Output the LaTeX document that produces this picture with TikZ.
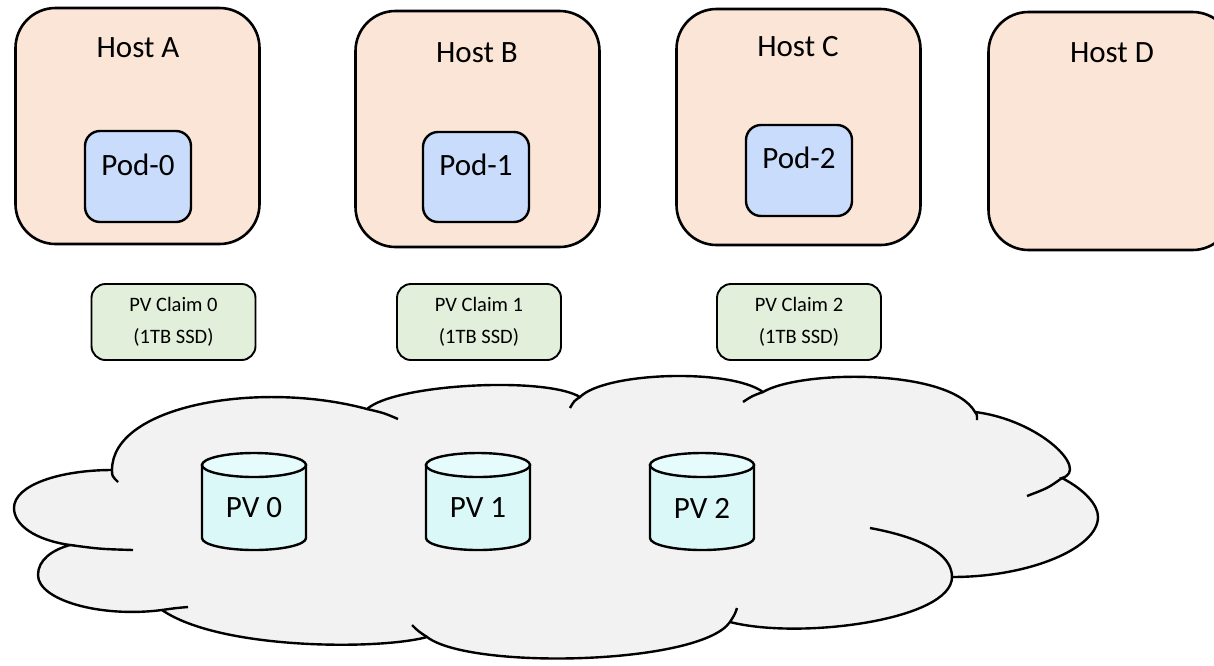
\documentclass[tikz,border=0pt]{standalone}
\usepackage{fontspec}
\setmainfont{Carlito}
\definecolor{hostfill}{HTML}{FBE5D6}
\definecolor{podfill}{HTML}{CADCFC}
\definecolor{claimfill}{HTML}{E2EFDA}
\definecolor{cloudfill}{HTML}{F2F2F2}
\definecolor{cylfill}{HTML}{DBF8F8}
\definecolor{cyltop}{HTML}{E6FCFC}
\begin{document}
\begin{tikzpicture}[x=1pt,y=-1pt,
  hostbox/.style={draw=black,line width=2.6pt,fill=hostfill,rounded corners=40pt,minimum width=244pt,minimum height=236pt,inner sep=0pt},
  podbox/.style={draw=black,line width=2.4pt,fill=podfill,rounded corners=15pt,minimum width=106pt,minimum height=90pt,inner sep=0pt},
  claimbox/.style={draw=black,line width=1.9pt,fill=claimfill,rounded corners=14pt,minimum width=164pt,minimum height=76pt,inner sep=0pt,align=center,font=\fontsize{20.5}{32}\selectfont},
  bigtxt/.style={inner sep=0pt,font=\fontsize{31}{37}\selectfont},
  cloudline/.style={draw=black,line width=2.4pt},
  cyl/.style={draw=black,line width=2.4pt,fill=cylfill},
  cyltopst/.style={draw=black,line width=2.4pt,fill=cyltop}
]
\useasboundingbox (0,0) rectangle (1214,665);
\clip (0,0) rectangle (1214,665);

% hosts
\node[hostbox] (hostA) at (137.5,126) {};
\node[hostbox] (hostB) at (477.5,129) {};
\node[hostbox] (hostC) at (798.5,127) {};
\node[hostbox,minimum height=238pt] (hostD) at (1110.5,131) {};
\node[bigtxt] (labA) at (138,48) {Host A};
\node[bigtxt] (labB) at (477,53) {Host B};
\node[bigtxt] (labC) at (798,47) {Host C};
\node[bigtxt] (labD) at (1112,53) {Host D};

% pods
\node[podbox,minimum height=91pt] (pod0) at (138,176.5) {};
\node[podbox] (pod1) at (476,177) {};
\node[podbox,minimum height=91pt] (pod2) at (799,170.5) {};
\node[bigtxt] (pod0t) at (138,165) {Pod-0};
\node[bigtxt] (pod1t) at (476,165) {Pod-1};
\node[bigtxt] (pod2t) at (799,158) {Pod-2};

% claims
\node[claimbox] (claim0) at (173.5,322) {PV Claim 0\\(1TB SSD)};
\node[claimbox] (claim1) at (479,322) {PV Claim 1\\(1TB SSD)};
\node[claimbox] (claim2) at (799,322) {PV Claim 2\\(1TB SSD)};

% cloud
\coordinate (J1) at (112,470);
\coordinate (J2) at (367,409);
\coordinate (J3) at (580,397);
\coordinate (J4) at (763,392);
\coordinate (J5) at (975,412);
\coordinate (J6) at (1062,478);
\coordinate (R6) at (1098,517);
\coordinate (J7) at (952,577);
\coordinate (J8) at (730,622);
\coordinate (J9) at (427,637);
\coordinate (J10) at (162,610);
\coordinate (L10) at (38,575);
\coordinate (J11) at (70,545);
\coordinate (L11) at (14,508);
\path[cloudline,fill=cloudfill]
  (J1) .. controls (112,405) and (260,380) .. (J2)
  .. controls (395,384) and (545,376) .. (J3)
  .. controls (605,372) and (730,368) .. (J4)
  .. controls (800,370) and (950,368) .. (J5)
  .. controls (1040,420) and (1090,470) .. (J6)
  .. controls (1085,490) and (1098,505) .. (R6)
  .. controls (1098,548) and (1030,577) .. (J7)
  .. controls (952,620) and (800,640) .. (J8)
  .. controls (700,665) and (470,670) .. (J9)
  .. controls (380,650) and (220,650) .. (J10)
  .. controls (100,618) and (38,600) .. (L10)
  .. controls (38,560) and (52,550) .. (J11)
  .. controls (35,540) and (14,525) .. (L11)
  .. controls (14,485) and (60,470) .. (J1) -- cycle;
% cloud inner tails
\coordinate (T1) at (118,482);
\coordinate (T2) at (398,419);
\coordinate (T3) at (570,408);
\coordinate (T4) at (743,402);
\coordinate (T5) at (977,420);
\coordinate (T6) at (1027,496);
\coordinate (T7) at (870,528);
\coordinate (T8) at (737,608);
\coordinate (T9) at (412,625);
\coordinate (T10) at (188,607);
\coordinate (T11) at (133,550);
\draw[cloudline] (J1) .. controls (112,476) .. (T1);
\draw[cloudline] (J2) .. controls (384,413) .. (T2);
\draw[cloudline] (T3) .. controls (574,401) .. (J3);
\draw[cloudline] (T4) .. controls (752,396) .. (J4);
\draw[cloudline] (J5) .. controls (977,414) .. (T5);
\draw[cloudline] (J6) .. controls (1048,488) .. (T6);
\draw[cloudline] (T7) .. controls (935,540) and (952,560) .. (J7);
\draw[cloudline] (T8) .. controls (735,614) .. (J8);
\draw[cloudline] (J9) .. controls (418,631) .. (T9);
\draw[cloudline] (J10) .. controls (176,608) .. (T10);
\draw[cloudline] (J11) .. controls (100,549) .. (T11);

% cylinders
\foreach \cx/\nm/\lab in {254/pv0/PV 0,478/pv1/PV 1,702/pv2/PV 2}{
  \path[cyl] (\cx-52,465) -- (\cx-52,538)
     arc[start angle=180,end angle=0,x radius=52,y radius=12]
     -- (\cx+52,465) -- cycle;
  \path[cyltopst] (\cx,465) ellipse[x radius=52,y radius=12];
  \node[bigtxt] (\nm) at (\cx,508) {\lab};
}
\end{tikzpicture}
\end{document}
